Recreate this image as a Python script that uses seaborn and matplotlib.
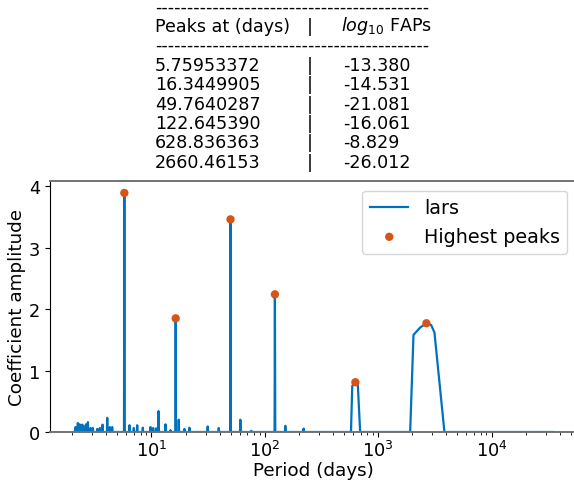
import numpy as np
import pandas as pd
import seaborn as sns
import matplotlib.pyplot as plt

# Highest peaks (period in days, coefficient amplitude, log10 FAP)
peak_periods = [5.75953372, 16.3449905, 49.7640287, 122.645390, 628.836363, 2660.46153]
peak_labels = ['5.75953372', '16.3449905', '49.7640287', '122.645390', '628.836363', '2660.46153']
peak_amps = [3.89, 1.85, 3.46, 2.24, 0.81, 1.77]
peak_faps = ['-13.380', '-14.531', '-21.081', '-16.061', '-8.829', '-26.012']

# Narrow non-zero lars coefficients (period, amplitude)
spike_periods = [2.14, 2.24, 2.32, 2.45, 2.53, 2.64, 2.75, 2.90, 3.04, 3.32, 3.50, 3.70,
                 4.07, 4.29, 4.50, 5.75953372, 6.40, 6.98, 7.48, 8.38, 9.80, 10.35, 11.0,
                 11.53, 13.28, 14.7, 16.3449905, 17.4, 19.5, 21.6, 31.3, 39.2, 49.7640287,
                 60.8, 76.0, 122.645390, 151.6, 219.8]
spike_amps = [0.08, 0.146, 0.125, 0.12, 0.09, 0.125, 0.16, 0.065, 0.065, 0.05, 0.065, 0.12,
              0.23, 0.08, 0.08, 3.89, 0.11, 0.065, 0.11, 0.07, 0.08, 0.065, 0.06,
              0.34, 0.125, 0.03, 1.85, 0.2, 0.05, 0.07, 0.09, 0.065, 3.46,
              0.2, 0.02, 2.24, 0.1, 0.055]

# Broad peaks at long periods (coarse grid)
broad_periods = [575, 590, 628.836363, 660, 693,
                 1913, 2047, 2344, 2660.46153, 2931, 3133, 3837]
broad_amps = [0.0, 0.75, 0.81, 0.78, 0.0,
              0.0, 1.58, 1.70, 1.77, 1.74, 1.62, 0.0]

grid_start, grid_end = 2.07, 34840.0

# build the coefficient curve: zero baseline with spikes
pts = [(grid_start, 0.0), (grid_end, 0.0)]
for p, a in zip(spike_periods, spike_amps):
    pts += [(p * 10 ** -0.003, 0.0), (p, a), (p * 10 ** 0.003, 0.0)]
pts += list(zip(broad_periods, broad_amps))
curve = pd.DataFrame(pts, columns=['period', 'amp']).sort_values('period')
peaks = pd.DataFrame({'period': peak_periods, 'amp': peak_amps})

fig = plt.figure(figsize=(5.74, 4.81), dpi=100)
ax = fig.add_axes([50 / 574, 48 / 481, 527 / 574, 251 / 481])
ax.set_xscale('log')

sns.lineplot(data=curve, x='period', y='amp', sort=False, estimator=None,
             color='#0072BD', linewidth=1.6, label='lars', ax=ax)
sns.scatterplot(data=peaks, x='period', y='amp', color='#D95319', s=36,
                edgecolor='none', label='Highest peaks', ax=ax, zorder=3)
ax.set_ylim(bottom=0)

ax.set_xlabel('Period (days)', fontsize=13.2, labelpad=1)
ax.set_ylabel('Coefficient amplitude', fontsize=13.2, labelpad=2)
ax.tick_params(labelsize=12.8)
ax.tick_params(axis='x', pad=2)
ax.legend(loc='upper right', fontsize=13.8)

ax.spines['left'].set_color('black')
for s in ['top', 'bottom']:
    ax.spines[s].set_color('0.45')
    ax.spines[s].set_linewidth(1.4)

# table of peaks above the axes
def fx(px):
    return px / 574

def fy(py):
    return 1 - py / 481

dashes = '-' * 43
tfs = 12.6
fig.text(fx(155), fy(8), dashes, fontsize=tfs, va='center')
fig.text(fx(155), fy(27), 'Peaks at (days)', fontsize=tfs, va='center')
fig.text(fx(310), fy(27), '|', fontsize=tfs, va='center', ha='center')
fig.text(fx(341), fy(26), r'$log_{10}$ FAPs', fontsize=tfs, va='center')
fig.text(fx(155), fy(46), dashes, fontsize=tfs, va='center')
for i, (lab, fap) in enumerate(zip(peak_labels, peak_faps)):
    y = 66 + 19.3 * i
    fig.text(fx(155), fy(y), lab, fontsize=tfs, va='center')
    fig.text(fx(310), fy(y), '|', fontsize=tfs, va='center', ha='center')
    fig.text(fx(343), fy(y), fap, fontsize=tfs, va='center')

fig.savefig('out.png', dpi=100)
